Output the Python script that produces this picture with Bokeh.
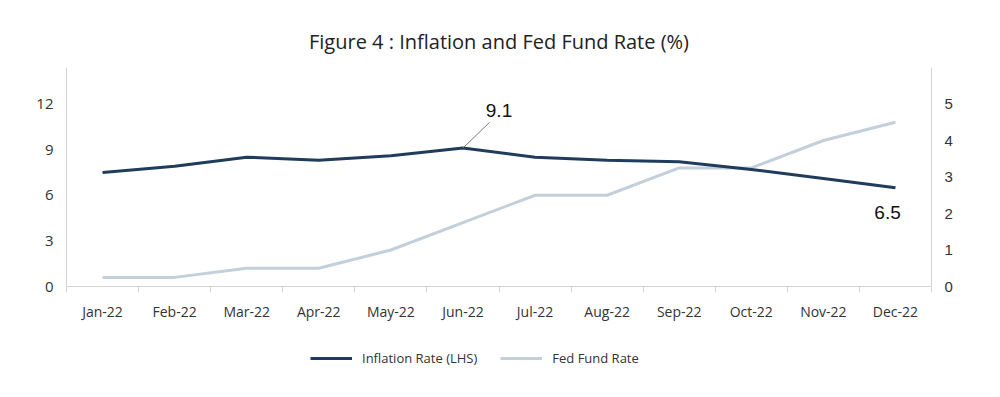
from bokeh.plotting import figure
from bokeh.layouts import column
from bokeh.models import (Range1d, LinearAxis, FixedTicker, Legend, LegendItem,
                          Label, ColumnDataSource)
from bokeh.embed import file_html
from bokeh.resources import INLINE

months = ["Jan-22", "Feb-22", "Mar-22", "Apr-22", "May-22", "Jun-22",
          "Jul-22", "Aug-22", "Sep-22", "Oct-22", "Nov-22", "Dec-22"]
inflation = [7.5, 7.9, 8.5, 8.3, 8.6, 9.1, 8.5, 8.3, 8.2, 7.7, 7.1, 6.5]
fed_rate = [0.25, 0.25, 0.5, 0.5, 1.0, 1.75, 2.5, 2.5, 3.25, 3.25, 4.0, 4.5]
left_ticks = [0, 3, 6, 9, 12]
right_ticks = [0, 1, 2, 3, 4, 5]
series_names = ["Inflation Rate (LHS)", "Fed Fund Rate"]

FONT = "Open Sans"
NAVY = "#1f3c5c"
LIGHT = "#c3cfda"
AXIS = "#d4d4d4"
TXT = "#333333"

xs = [i + 0.5 for i in range(len(months))]
src = ColumnDataSource(dict(x=xs, infl=inflation, fed=fed_rate))

W = 1000
H_MAIN = 327
H_LEG = 70

p = figure(width=W, height=H_MAIN, output_backend="svg", toolbar_location=None,
           x_range=Range1d(0, len(months)), y_range=Range1d(0, 14.4),
           min_border_left=66, min_border_right=69, min_border_top=67,
           min_border_bottom=41)
p.outline_line_color = None
p.grid.grid_line_color = None

p.title.text = "Figure 4 : Inflation and Fed Fund Rate (%)"
p.title.align = "center"
p.title.text_font = FONT
p.title.text_font_size = "20px"
p.title.text_font_style = "normal"
p.title.text_color = "#222222"
p.title.standoff = 25

p.extra_y_ranges = {"right": Range1d(0, 6)}

# x axis
xa = p.xaxis[0]
xa.ticker = FixedTicker(ticks=xs, minor_ticks=list(range(len(months) + 1)))
xa.major_label_overrides = {x: m for x, m in zip(xs, months)}
xa.major_tick_line_color = None
xa.major_tick_out = 6
xa.major_tick_in = 0
xa.minor_tick_line_color = AXIS
xa.minor_tick_out = 6
xa.minor_tick_in = 0
xa.axis_line_color = AXIS
xa.major_label_text_font = FONT
xa.major_label_text_font_size = "14px"
xa.major_label_text_color = TXT
xa.major_label_standoff = 9

# left axis
ya = p.yaxis[0]
ya.ticker = FixedTicker(ticks=left_ticks)
ya.major_tick_line_color = None
ya.major_tick_out = 0
ya.major_tick_in = 0
ya.minor_tick_line_color = None
ya.minor_tick_out = 0
ya.axis_line_color = AXIS
ya.major_label_text_font = FONT
ya.major_label_text_font_size = "15px"
ya.major_label_text_color = TXT
ya.major_label_standoff = 13

# right axis
ra = LinearAxis(y_range_name="right", ticker=FixedTicker(ticks=right_ticks))
ra.major_tick_line_color = None
ra.major_tick_out = 0
ra.major_tick_in = 0
ra.minor_tick_line_color = None
ra.minor_tick_out = 0
ra.axis_line_color = AXIS
ra.major_label_text_font = "Liberation Sans"
ra.major_label_text_font_size = "15px"
ra.major_label_text_color = TXT
ra.major_label_standoff = 13
p.add_layout(ra, "right")

p.line("x", "fed", source=src, line_color=LIGHT, line_width=3,
       y_range_name="right")
p.line("x", "infl", source=src, line_color=NAVY, line_width=3)

# annotations
i_max = inflation.index(max(inflation))
p.segment(x0=[xs[i_max]], y0=[inflation[i_max]], x1=[xs[i_max] + 0.37],
          y1=[inflation[i_max] + 1.7], line_color="#777777", line_width=1)
p.add_layout(Label(x=xs[i_max] + 0.5, y=inflation[i_max] + 2.45,
                   text=f"{inflation[i_max]}", text_font="Liberation Sans",
                   text_font_size="19px", text_color="#111111",
                   text_align="center", text_baseline="middle"))
p.add_layout(Label(x=xs[-1] - 0.11, y=inflation[-1] - 1.65,
                   text=f"{inflation[-1]}", text_font="Liberation Sans",
                   text_font_size="19px", text_color="#111111",
                   text_align="center", text_baseline="middle"))

# legend figure (series drawn off-view; only the legend shows)
lg = figure(width=W, height=H_LEG, output_backend="svg", toolbar_location=None,
            x_range=Range1d(0, len(months)), y_range=Range1d(100, 101),
            x_axis_location=None, y_axis_location=None, min_border=0)
lg.grid.grid_line_color = None
lg.outline_line_color = None
r1 = lg.line("x", "infl", source=src, line_color=NAVY, line_width=3)
r2 = lg.line("x", "fed", source=src, line_color=LIGHT, line_width=3)
legend = Legend(items=[LegendItem(label=series_names[0], renderers=[r1]),
                       LegendItem(label=series_names[1], renderers=[r2])],
                orientation="horizontal", location=(244, 29))
legend.label_text_font = FONT
legend.label_text_font_size = "13px"
legend.label_text_color = TXT
legend.glyph_width = 42
legend.label_standoff = 10
legend.spacing = 23
legend.border_line_color = None
legend.background_fill_alpha = 0
legend.margin = 0
legend.padding = 6
lg.add_layout(legend, "center")

layout = column(p, lg, spacing=0)
open("out.html", "w").write(file_html(layout, INLINE))
